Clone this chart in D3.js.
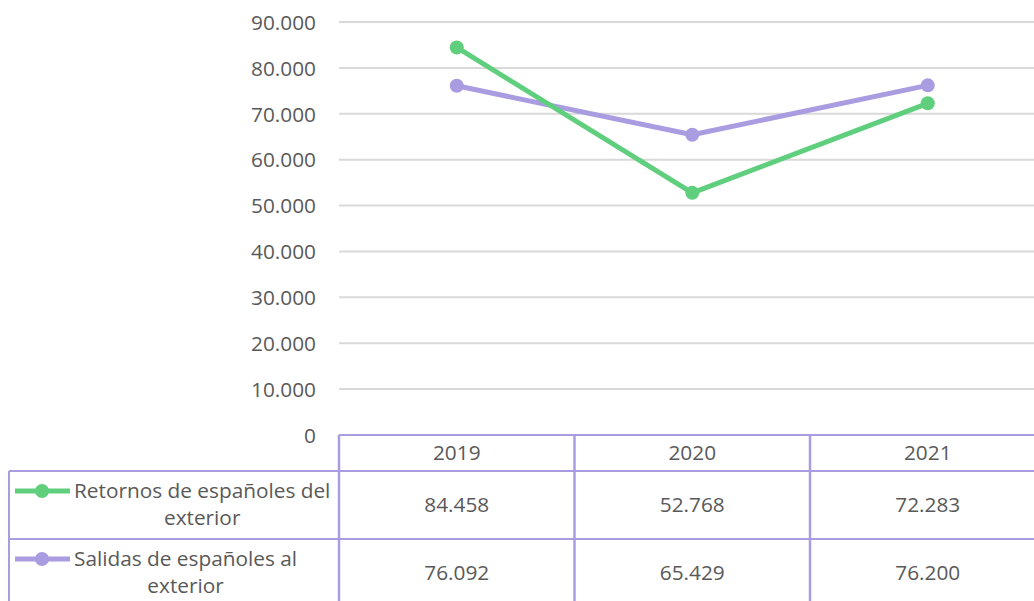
<!DOCTYPE html>
<html><head><meta charset="utf-8">
<script src="https://cdn.jsdelivr.net/npm/d3@7"></script>
<style>html,body{margin:0;padding:0;background:#fff;overflow:hidden}svg{display:block}text{font-family:"Open Sans",sans-serif;fill:#595959}</style>
</head><body><svg id="c" width="1034" height="601"></svg>
<script>
const years = ["2019","2020","2021"];
const retornos = [84458, 52768, 72283];
const salidas = [76092, 65429, 76200];
const seriesNames = [["Retornos de españoles del","exterior"],["Salidas de españoles al","exterior"]];
const yTicks = [0,10000,20000,30000,40000,50000,60000,70000,80000,90000];
const colors = ["#5FCF7D","#A99CE0"];

const svg = d3.select("#c");
const fs = 20.8;
const x = d3.scaleBand().domain(years).range([339, 339 + 3*235.5]).padding(0);
const y = d3.scaleLinear().domain([0,90000]).range([435, 22]);
const fmt = v => v === 0 ? "0" : d3.format(",")(v).replace(/,/g,".");

// gridlines
svg.append("g").selectAll("line").data(yTicks.filter(d=>d>0)).join("line")
  .attr("x1",339).attr("x2",1034).attr("y1",d=>y(d)).attr("y2",d=>y(d))
  .attr("stroke","#D9D9D9").attr("stroke-width",2);
// y labels
const yAxis = d3.axisLeft(y).tickValues(yTicks).tickFormat(fmt).tickSize(0).tickPadding(0);
const ga = svg.append("g").attr("transform","translate(316,0)").call(yAxis);
ga.select(".domain").remove();
ga.selectAll("text").attr("font-size",fs).attr("font-family","'Open Sans',sans-serif").attr("fill","#595959").attr("dy","0.35em");

// table
const tc = "#A99CE0";
const rowY = [435, 471, 539, 607];
const tb = svg.append("g");
tb.append("line").attr("x1",339).attr("x2",1034).attr("y1",rowY[0]).attr("y2",rowY[0]).attr("stroke",tc).attr("stroke-width",2);
tb.append("line").attr("x1",9).attr("x2",1034).attr("y1",rowY[1]).attr("y2",rowY[1]).attr("stroke",tc).attr("stroke-width",2);
tb.append("line").attr("x1",9).attr("x2",1034).attr("y1",rowY[2]).attr("y2",rowY[2]).attr("stroke",tc).attr("stroke-width",2);
tb.append("line").attr("x1",9).attr("x2",9).attr("y1",rowY[1]).attr("y2",601).attr("stroke",tc).attr("stroke-width",2);
tb.selectAll("line.v").data(years).join("line").attr("class","v")
  .attr("x1",d=>x(d)).attr("x2",d=>x(d)).attr("y1",rowY[0]).attr("y2",601).attr("stroke",tc).attr("stroke-width",2.5);
// header
tb.selectAll("text.h").data(years).join("text").attr("class","h")
  .attr("x",d=>x(d)+x.bandwidth()/2).attr("y",(rowY[0]+rowY[1])/2).attr("dy","0.35em")
  .attr("text-anchor","middle").attr("font-size",fs).text(d=>d);

const allSeries = [retornos, salidas];
allSeries.forEach((vals,i)=>{
  const top = rowY[i+1], bot = rowY[i+2];
  const cy = (top+bot)/2;
  tb.selectAll("text.v"+i).data(vals).join("text").attr("class","v"+i)
    .attr("x",(d,j)=>x(years[j])+x.bandwidth()/2).attr("y",cy).attr("dy","0.35em")
    .attr("text-anchor","middle").attr("font-size",fs).text(d=>fmt(d));
  // legend key
  const ky = top + 20;
  tb.append("line").attr("x1",15).attr("x2",70).attr("y1",ky).attr("y2",ky).attr("stroke",colors[i]).attr("stroke-width",5);
  tb.append("circle").attr("cx",42).attr("cy",ky).attr("r",7).attr("fill",colors[i]);
  const t1 = tb.append("text").attr("x",74).attr("y",ky).attr("dy","0.35em").attr("font-size",fs).text(seriesNames[i][0]);
  const w = t1.node().getComputedTextLength();
  tb.append("text").attr("x",74+w/2).attr("y",ky+27).attr("dy","0.35em").attr("text-anchor","middle").attr("font-size",fs).text(seriesNames[i][1]);
});

// lines
const line = d3.line().x((d,j)=>x(years[j])+x.bandwidth()/2).y(d=>y(d));
[salidas, retornos].forEach((vals)=>{
  const c = vals===retornos?colors[0]:colors[1];
  svg.append("path").datum(vals).attr("d",line).attr("fill","none").attr("stroke",c).attr("stroke-width",5).attr("stroke-linejoin","round");
  svg.append("g").selectAll("circle").data(vals).join("circle")
    .attr("cx",(d,j)=>x(years[j])+x.bandwidth()/2).attr("cy",d=>y(d)).attr("r",7).attr("fill",c);
});
</script></body></html>
